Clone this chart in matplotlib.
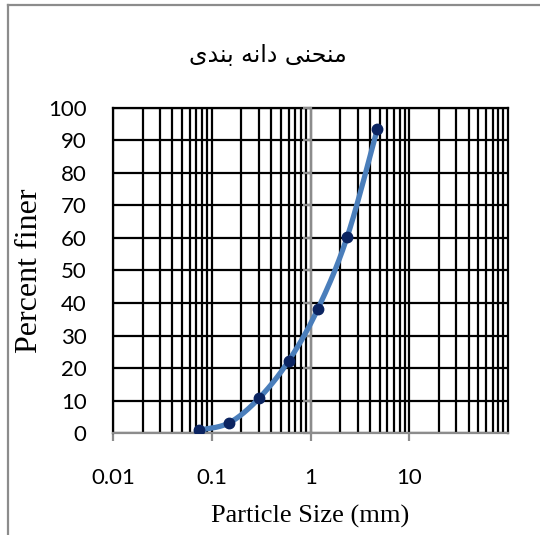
import numpy as np
import matplotlib
matplotlib.use("Agg")
import matplotlib.pyplot as plt
from matplotlib.lines import Line2D

# ---- data ----
sizes_mm = [0.075, 0.15, 0.3, 0.6, 1.18, 2.36, 4.75]
percent_finer = [1.0, 3.2, 10.7, 22.2, 38.0, 60.4, 93.4]
x_ticks = [0.01, 0.1, 1, 10]
x_tick_labels = ["0.01", "0.1", "1", "10"]
y_ticks = [0, 10, 20, 30, 40, 50, 60, 70, 80, 90, 100]
title_text = "\uFEEF\uFEAA\uFEE8\uFE91 \uFEEA\uFEE7\uFE8D\uFEA9 \uFEF0\uFEE8\uFEA4\uFEE8\uFEE3"  # منحنی دانه بندی (shaped, visual order)
x_label = "Particle Size (mm)"
y_label = "Percent finer"

W, H = 540, 535
fig = plt.figure(figsize=(W / 100, H / 100), dpi=100)
fig.patch.set_facecolor("white")

# chart-area frame (right/bottom edges outside picture)
fig.add_artist(Line2D([7.5 / W, 7.5 / W], [0, 1 - 5 / H], transform=fig.transFigure,
                      color="#8c8c8c", lw=1.6))
fig.add_artist(Line2D([7.5 / W, 1], [1 - 5 / H, 1 - 5 / H], transform=fig.transFigure,
                      color="#8c8c8c", lw=1.6))

left, right, top, bottom = 113 / W, 508 / W, 1 - 107.5 / H, 1 - 433.3 / H
ax = fig.add_axes([left, bottom, right - left, top - bottom])
ax.set_xscale("log")
ax.set_xlim(0.01, 100)
ax.set_ylim(0, 100)

ax.xaxis.set_minor_locator(matplotlib.ticker.LogLocator(base=10, subs=np.arange(2, 10)))
ax.xaxis.set_minor_formatter(matplotlib.ticker.NullFormatter())
ax.set_xticks(x_ticks)
ax.set_xticklabels(x_tick_labels)
ax.set_yticks(y_ticks)
ax.set_yticklabels([str(v) for v in y_ticks])
ax.grid(True, which="major", axis="both", color="black", lw=1.6)
ax.grid(True, which="minor", axis="x", color="black", lw=1.6)
ax.axvline(100, color="black", lw=1.6, clip_on=False)
ax.axvline(0.01, color="black", lw=1.6, clip_on=False)
ax.axhline(100, color="black", lw=1.6, clip_on=False)

for s in ["left", "right", "top"]:
    ax.spines[s].set_visible(False)
ax.spines["bottom"].set_color("#8c8c8c")
ax.spines["bottom"].set_linewidth(1.6)
ax.spines["bottom"].set_zorder(3)

ax.tick_params(axis="x", which="major", direction="out", length=6, width=1.6,
               color="#8c8c8c", pad=19, labelsize=16)
ax.tick_params(axis="x", which="minor", length=0)
ax.tick_params(axis="y", which="major", length=0, pad=19, labelsize=16)
for lab in ax.get_xticklabels() + ax.get_yticklabels():
    lab.set_fontfamily("Lato")

# secondary axes: vertical axis line crossing at x=1
ax2 = fig.add_axes(ax.get_position(), sharey=ax)
ax2.set_xscale("log")
ax2.set_xlim(0.01, 100)
ax2.patch.set_visible(False)
for s in ["right", "top", "bottom"]:
    ax2.spines[s].set_visible(False)
ax2.spines["left"].set_position(("data", 1))
ax2.spines["left"].set_color("#8c8c8c")
ax2.spines["left"].set_linewidth(1.6)
ax2.tick_params(axis="y", direction="out", length=6, width=1.6, color="#8c8c8c",
                labelleft=False)
ax2.tick_params(axis="x", which="both", length=0, labelbottom=False)
ax2.grid(False)

# smooth curve (Bezier / Catmull-Rom in screen-like space)
u = np.log10(np.array(sizes_mm)) * 99.0
v = np.array(percent_finer) * 3.25
P = np.column_stack([u, v])
Pext = np.vstack([P[0], P, P[-1]])
curve = []
for i in range(1, len(Pext) - 2):
    p0, p1, p2, p3 = Pext[i - 1], Pext[i], Pext[i + 1], Pext[i + 2]
    c1 = p1 + (p2 - p0) / 6.0
    c2 = p2 - (p3 - p1) / 6.0
    t = np.linspace(0, 1, 40)[:, None]
    seg = ((1 - t) ** 3) * p1 + 3 * ((1 - t) ** 2) * t * c1 + 3 * (1 - t) * t ** 2 * c2 + t ** 3 * p2
    curve.append(seg)
curve = np.vstack(curve)
cx = 10 ** (curve[:, 0] / 99.0)
cy = curve[:, 1] / 3.25
ax2.plot(cx, cy, color="#4a7ebb", lw=3.8, solid_capstyle="round", zorder=4)
ax2.plot(sizes_mm, percent_finer, "o", color="#0b2461", ms=7.5, zorder=5)

ax.set_xlabel(x_label, fontfamily="Liberation Serif", fontsize=19, labelpad=12)
ax.set_ylabel(y_label, fontfamily="Liberation Serif", fontsize=23, labelpad=3)

fig.text(268 / W, 1 - 55 / H, title_text, ha="center", va="center",
         fontfamily="DejaVu Sans", fontsize=17)

fig.savefig("out.png", dpi=100)
